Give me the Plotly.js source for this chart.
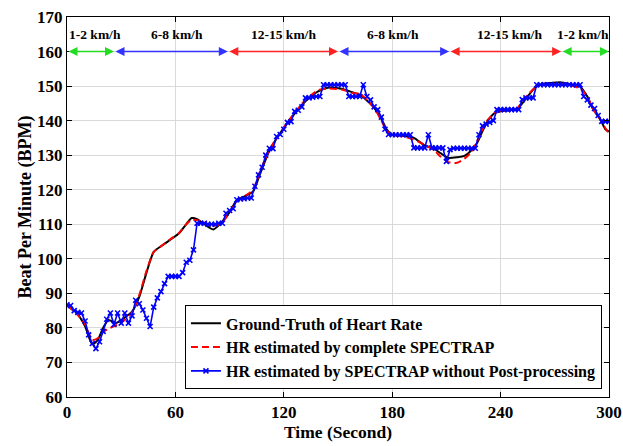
<!DOCTYPE html>
<html>
<head>
<meta charset="utf-8">
<script src="https://cdn.plot.ly/plotly-3.0.1.min.js"></script>
<style>html,body{margin:0;padding:0;background:#fff;}#chart{width:623px;height:446px;}</style>
</head>
<body>
<div id="chart"></div>
<script>
// Ground truth (black)
const gtTime = [0,5,10,14,17,20,23,27,32,36,40,44,48,53,58,62,66,69,72,76,81,86,90,94,98,103,107,112,118,122,127,133,139,145,152,158,162,166,170,174,177,180,186,192,198,203,207,211,216,220,224,227,230,233,237,240,245,249,252,255,259,263,268,273,278,284,288,291,295,298,300];
const gtHR = [86.5,84.5,80.5,75.2,76.5,80,82.3,81.4,83,84.7,89,96,102,104,105.8,107.4,110,111.8,111.5,110,108.5,110.8,113.5,117,118,119.5,124.8,131.3,136.4,139.3,142.7,146.1,148.5,149.6,149.2,148.2,147.5,145.8,143.7,140.5,137.4,135.9,135.6,135,132.8,131.9,130.5,129.2,129.4,129.8,131.5,133.5,137,140,142.3,142.7,143,143.3,145,147,149.5,150.6,150.9,151.1,150.6,149.8,147,143.5,140.5,137.5,136.8];

// Complete SPECTRAP (red dashed)
const fullTime = [0,5,10,14,17,20,24,28,32,36,40,44,48,53,58,62,66,69,72,76,81,86,90,94,98,103,107,112,118,122,127,133,139,145,152,158,162,166,170,174,177,180,186,192,198,203,207,211,216,220,224,227,230,233,237,240,245,249,252,255,259,263,268,273,278,284,288,291,295,298,300];
const fullHR = [86.5,84.3,81,76.5,77,78.8,80,81,82.3,84.5,89.5,96.5,102,104,106,107.5,110,111.3,111.2,110.5,109.5,110.5,113.5,116.5,118,120,125.5,131.5,136.5,139.5,143,146.5,148.8,149.3,149,148,147.8,146,143.7,140,137,135.8,135.5,134.5,133,131.5,129.5,128,127.8,129,131,134,137.5,140.3,142.3,142.8,143,143.5,145.5,147.5,149.5,150.5,150.6,150.6,150.3,149.3,147,143.5,140.5,137.8,136.3];

// SPECTRAP without post-processing (blue, every 2 s)
const rawTime = [0,2,4,6,8,10,12,14,16,18,20,22,24,26,28,30,32,34,36,38,40,42,44,46,48,50,52,54,56,58,60,62,64,66,68,70,72,74,76,78,80,82,84,86,88,90,92,94,96,98,100,102,104,106,108,110,112,114,116,118,120,122,124,126,128,130,132,134,136,138,140,142,144,146,148,150,152,154,156,158,160,162,164,166,168,170,172,174,176,178,180,182,184,186,188,190,192,194,196,198,200,202,204,206,208,210,212,214,216,218,220,222,224,226,228,230,232,234,236,238,240,242,244,246,248,250,252,254,256,258,260,262,264,266,268,270,272,274,276,278,280,282,284,286,288,290,292,294,296,298,300];
const rawHR = [86.7,86.5,85,84.5,84.3,82,78,75.5,74,76,79,82.5,84.3,81,84.3,81.4,84.3,81.4,83.5,88,87,85.2,82.8,80.4,86,88.7,90.5,92.8,94.9,94.9,94.9,94.9,96,99,99.6,102.6,110.3,110.3,110.3,110,110,110,110.3,110.3,113.2,114,114.5,117.1,117.3,117.4,117.6,117.6,121,124.3,126.5,130,132,131.9,135.4,136,137.5,139.5,139.7,142.7,143,144,146.6,146.6,146.8,147,147,150.4,150.4,150.4,150.4,150.4,150.4,150.4,147,147,147,147,150.4,147,146,144,143.2,141,137.5,136,135.9,135.9,135.9,135.9,135.9,135.9,132.1,132.1,132.1,132.1,135.9,132.1,132.1,132.1,132.1,128.2,131.6,132,132,132,132,132,132,132,135.9,138.5,139,139.5,140,143.2,143.2,143.2,143.2,143.2,143.2,143.2,146.1,146.6,146.6,146.6,150.4,150.4,150.4,150.4,150.4,150.4,150.4,150.4,150.4,150.4,150.4,150.4,150.4,147,146,144.5,143.5,141.5,139.8,139.8,139.8];

// Speed segments
const speedBounds = [0,26,89,150,211.5,273.5,300];
const speedLabels = ["1-2 km/h","6-8 km/h","12-15 km/h","6-8 km/h","12-15 km/h","1-2 km/h"];
const speedLabelX = [15.5,60.7,119.6,180.5,245,285.6];
const speedColors = ["#22dd22","#3333ff","#ff2222","#3333ff","#ff2222","#22dd22"];
const arrowLevel = 160;
const labelLevel = 165;

const xTicks = [0,60,120,180,240,300];
const yTicks = [60,70,80,90,100,110,120,130,140,150,160,170];

const serif = "Liberation Serif, Times New Roman, serif";

const traces = [
  {x: gtTime, y: gtHR, type: "scatter", mode: "lines", name: "<b>Ground-Truth of Heart Rate</b>",
   line: {color: "#000000", width: 2, shape: "spline", smoothing: 0.6}},
  {x: fullTime, y: fullHR, type: "scatter", mode: "lines", name: "<b>HR estimated by complete SPECTRAP</b>",
   line: {color: "#ff0000", width: 2, dash: "7px,4px", shape: "spline", smoothing: 0.6}},
  {x: rawTime, y: rawHR, type: "scatter", mode: "lines+markers", name: "<b>HR estimated by SPECTRAP without Post-processing</b>",
   line: {color: "#0000ff", width: 1.6}, marker: {symbol: "x-thin", size: 5, color: "#0000ff", line: {color: "#0000ff", width: 1.6}}}
];

const annotations = [];
for (let i = 0; i < speedLabels.length; i++) {
  annotations.push({
    x: speedBounds[i+1], y: arrowLevel, ax: speedBounds[i], ay: arrowLevel,
    xref: "x", yref: "y", axref: "x", ayref: "y",
    text: "", showarrow: true, arrowhead: 2, arrowside: "end+start",
    arrowsize: 1.2, arrowwidth: 1.5, arrowcolor: speedColors[i], standoff: 0, startstandoff: 0
  });
  annotations.push({
    x: speedLabelX[i], y: labelLevel, xref: "x", yref: "y", text: "<b>" + speedLabels[i] + "</b>",
    showarrow: false, font: {family: serif, size: 13.5, color: "#000"}
  });
}

const layout = {
  width: 623, height: 446,
  margin: {l: 67, r: 14, t: 17, b: 49},
  paper_bgcolor: "#fff", plot_bgcolor: "#fff",
  showlegend: true,
  legend: {x: 0.987, y: 0.02, xanchor: "right", yanchor: "bottom",
    bgcolor: "#fff", bordercolor: "#000", borderwidth: 1,
    font: {family: serif, size: 16, color: "#000"}, tracegroupgap: 0, itemwidth: 30},
  xaxis: {range: [0, 300], tickvals: xTicks, ticktext: xTicks.map(v => "<b>" + v + "</b>"),
    showline: true, linecolor: "#000", linewidth: 1, mirror: "ticks", ticks: "inside", ticklen: 5, tickcolor: "#000",
    showgrid: true, gridcolor: "#d9d9d9", gridwidth: 1, zeroline: false,
    tickfont: {family: serif, size: 17, color: "#000"},
    title: {text: "<b>Time (Second)</b>", font: {family: serif, size: 17.5, color: "#000"}, standoff: 3}},
  yaxis: {range: [60, 170], tickvals: yTicks, ticktext: yTicks.map(v => "<b>" + v + "</b>"),
    showline: true, linecolor: "#000", linewidth: 1, mirror: "ticks", ticks: "inside", ticklen: 5, tickcolor: "#000",
    showgrid: true, gridcolor: "#d9d9d9", gridwidth: 1, zeroline: false,
    tickfont: {family: serif, size: 17, color: "#000"},
    title: {text: "<b>Beat Per Minute (BPM)</b>", font: {family: serif, size: 18, color: "#000"}, standoff: 0}},
  annotations: annotations
};

Plotly.newPlot("chart", traces, layout, {staticPlot: true, displayModeBar: false});
</script>
</body>
</html>
